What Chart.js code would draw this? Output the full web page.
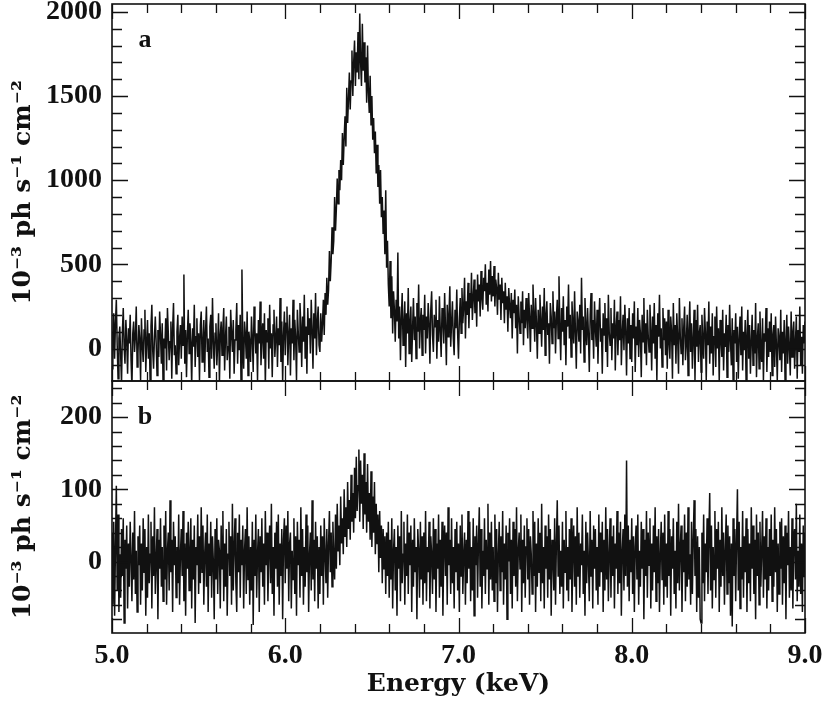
<!DOCTYPE html>
<html>
<head>
<meta charset="utf-8">
<script src="https://cdn.jsdelivr.net/npm/chart.js@4.4.1/dist/chart.umd.min.js"></script>
<style>
  html, body { margin: 0; padding: 0; background: #fff; }
  #wrap { position: relative; width: 830px; height: 702px; }
  #wrap canvas { position: absolute; left: 0; }
  #panelA { top: 0; }
  #panelB { top: 360px; }
</style>
</head>
<body>
<div id="wrap">
  <canvas id="panelA" width="830" height="384"></canvas>
  <canvas id="panelB" width="830" height="342"></canvas>
</div>
<script>
// channel grid (keV)
const E_START = 5.0;
const E_STEP = 0.005;

// panel a: flux, 10^-3 ph s^-1 cm^-2, one value per channel (40 per 0.2 keV row)
const FLUX_A = [
  -120, 80, 210, -60, 150, 290, 20, -180, 60, 130, -40, -210, 100, 240, 10, -90, 170, 50, -150, 120,
  30, 200, -70, -230, 90, 160, -20, 70, 250, -110, -30, 140, 60, -190, 180, 20, -80, 110, 230, -140,
  40, 170, -60, 90, -200, 130, 260, -10, -120, 70, 190, 30, -160, 110, -50, 220, 80, -90, 150, -240,
  60, 0, 180, -130, 240, 90, -70, 40, 160, -180, 120, 270, -40, 20, -150, 100, 200, -100, 60, 140,
  -60, 190, 20, 440, -90, 110, -170, 80, 230, -30, 150, 40, -220, 120, 10, 260, -110, 70, 180, -50,
  90, -190, 140, 220, -80, 30, 170, -140, 100, 250, -20, 60, -170, 130, 200, -60, 300, 40, -120, 90,
  150, -100, 20, 210, -210, 80, 160, -40, 120, 240, -130, 60, 190, -70, 10, 130, -180, 230, 90, -20,
  170, -150, 50, 110, 270, -90, 140, -10, 200, -230, 470, 30, -120, 160, 80, -60, 220, -160, 100, 40,
  -80, 190, 60, -140, 250, 120, -30, 90, -190, 170, 30, 280, -100, 70, 150, -60, 210, -220, 110, 40,
  180, -120, 260, 0, 90, -170, 140, 230, -50, 60, 190, -110, 120, 20, 300, -80, 160, -200, 80, 220,
  -40, 150, 250, -100, 80, 200, -160, 120, 30, 290, -70, 170, 60, -190, 230, 100, -20, 270, 140, -110,
  190, 40, 320, -60, 130, -150, 240, 80, 180, -30, 290, 110, -120, 210, 60, 330, -40, 160, 250, 20,
  -20, 210, 40, 150, 290, 80, 330, 200, 420, 260, 350, 580, 400, 520, 720, 560, 640, 900, 700, 830,
  1010, 860, 1060, 940, 1120, 1000, 1280, 1090, 1250, 1380, 1200, 1550, 1340, 1480, 1640, 1420, 1590, 1770, 1500, 1700,
  1830, 1560, 1760, 1640, 1880, 1600, 1990, 1700, 1560, 1930, 1650, 1820, 1580, 1730, 1460, 1800, 1520, 1400, 1620, 1330,
  1500, 1240, 1370, 1160, 1290, 1040, 1210, 960, 1090, 860, 1060, 780, 900, 680, 820, 560, 940, 480, 640, 380,
  250, 520, 180, 430, 90, 340, 230, 40, 290, 160, 570, 60, 250, -70, 180, 330, 20, 140, 280, -110,
  210, 90, 360, -30, 150, 250, -80, 120, 300, 50, 190, -60, 270, 100, 380, 0, 160, 240, -40, 200,
  110, 320, -30, 190, 60, 270, 150, -90, 230, 340, 80, -20, 200, 130, 290, -60, 170, 40, 310, 100,
  -50, 240, 180, 30, 330, 120, -100, 260, 70, 200, 370, 10, 150, 280, 60, -40, 230, 120, 350, 90,
  -60, 180, 300, 90, 360, 150, 250, 420, 60, 280, 200, 390, 120, 330, 240, 450, 170, 300, 410, 210,
  350, 130, 440, 280, 380, 190, 460, 300, 230, 420, 340, 500, 260, 390, 220, 470, 320, 520, 280, 430,
  310, 490, 250, 410, 360, 200, 450, 290, 380, 170, 420, 270, 340, 150, 390, 230, 310, 100, 360, 250,
  180, 330, 60, 290, 210, 350, 120, 260, -30, 310, 190, 90, 280, 150, 340, 20, 230, 120, 300, 170,
  60, 330, 190, -20, 260, 120, 380, 210, 40, 300, 150, -60, 230, 90, 320, 170, 10, 250, 110, 360,
  -40, 200, 280, 80, 150, -90, 270, 190, 30, 340, 120, 220, -30, 180, 290, 60, 430, 140, -70, 240,
  100, 310, 20, 170, -100, 250, 130, 380, 60, 200, -50, 280, 150, 30, 340, 90, -120, 220, 160, 40,
  260, -30, 420, 110, 190, -80, 300, 140, 20, 240, 80, -140, 200, 330, 50, 170, -60, 280, 120, 10,
  230, -90, 160, 300, 40, 120, -150, 210, 80, 270, -20, 180, -110, 320, 100, 20, 240, -70, 150, 60,
  290, -130, 130, 220, -40, 170, 50, 310, -100, 90, 200, -10, 260, 110, -160, 180, 30, 240, -60, 140,
  -80, 210, 60, 280, -140, 130, 20, 240, -50, 170, 90, -170, 200, 40, 300, -30, 150, -100, 230, 80,
  -20, 260, 110, -130, 190, 30, 270, -60, 140, -190, 210, 70, 320, 0, 120, -110, 240, 50, 180, -40,
  160, -120, 230, 40, -60, 190, 100, -180, 270, 20, 140, -90, 210, 60, -150, 300, 80, -30, 180, -100,
  120, 250, -70, 30, 200, -160, 110, 280, -20, 150, -120, 60, 230, -190, 170, 10, 260, -80, 90, 140,
  -140, 200, 50, -60, 240, 100, -190, 160, 20, 280, -90, 130, -30, 210, -160, 70, 190, -110, 250, 0,
  120, -200, 170, 60, -50, 230, -130, 90, 10, 200, -170, 140, -20, 260, 40, -100, 180, -190, 110, 30,
  210, -80, 130, -180, 60, 190, -40, 250, -130, 100, -10, 170, -200, 80, 230, -60, 140, -150, 40, 200,
  -100, 110, -30, 270, -170, 60, 150, -120, 220, 0, -80, 180, -190, 90, 40, 240, -140, 120, -50, 160,
  -20, 210, -160, 80, 140, -110, 190, 20, -190, 120, 60, -70, 230, -140, 100, -30, 170, -200, 50, 200,
  -90, 130, 10, -160, 220, -50, 90, 160, -120, 40, 190, -180, 110, -20, 250, -100, 70, -150, 140, 30,
  160
];

// panel b
const FLUX_B = [
  40, -60, 55, -75, 20, 105, -40, 65, -70, 10, -50, 45, -20, 60, -85, 30, -10, 50, -65, 25,
  -35, 55, 5, -55, 40, -25, 70, -45, 15, -70, 35, -5, 50, -60, 25, -40, 60, -15, 45, -75,
  20, -50, 65, -30, 10, 55, -65, 35, -20, 75, -45, 0, 45, -80, 30, -10, 60, -35, 20, -55,
  50, -25, 70, -60, 15, 40, -40, 85, -15, 30, -70, 55, -5, 35, -50, 20, -30, 65, -60, 10,
  45, -20, 70, -55, 25, -75, 40, -10, 55, -40, 15, 60, -65, 30, -25, 50, -85, 20, -5, 65,
  -45, 35, -30, 75, -15, 50, -60, 10, 40, -35, 65, -70, 25, -20, 55, -50, 35, 0, -80, 45,
  -25, 60, -45, 30, 15, -65, 50, -10, 70, -55, 25, -35, 45, -75, 10, 55, -20, 35, -60, 80,
  -40, 20, 60, -30, -70, 40, -15, 65, -50, 30, -5, 50, -65, 15, 45, -45, 75, -25, 35, -60,
  20, -40, 55, -88, 30, -20, 65, -50, 10, 45, -70, 35, -15, 60, -35, 25, -60, 70, -5, 40,
  -55, 15, 50, -30, 80, -45, 20, -75, 40, -10, 55, -35, 65, -60, 25, -20, 45, -80, 30, 60,
  -30, 50, -10, 70, -55, 25, 40, -65, 15, -25, 60, -45, 35, -75, 55, -5, 30, -50, 75, -20,
  45, -60, 20, -35, 65, -15, 50, -70, 10, 40, -40, 85, -25, 30, -55, 55, -10, 35, -65, 20,
  -45, 50, -20, 35, -60, 60, 10, -30, 45, -50, 25, 70, -15, 40, -35, 55, 5, -25, 65, -10,
  80, 15, 50, -5, 90, 25, 60, 10, 100, 35, 75, 20, 110, 45, 85, 30, 120, 55, 95, 40,
  130, 60, 145, 70, 105, 155, 55, 140, 80, 120, 45, 150, 65, 110, 40, 135, 55, 95, 30, 125,
  20, 90, 40, 110, 10, 80, 25, 65, -15, 70, 5, 50, -30, 45, -10, 35, -45, 40, -20, 55,
  -50, 30, -25, 60, -65, 15, 45, -40, 20, -75, 50, -10, 35, -55, 70, -30, 10, 55, -60, 25,
  -20, 65, -45, 40, -5, 50, -70, 30, -35, 60, -15, 20, -80, 45, 15, -50, 55, -25, 35, -60,
  40, -30, 70, -55, 20, -15, 55, -65, 35, 10, -45, 60, -25, 45, -70, 25, -10, 65, -50, 30,
  -35, 55, -75, 15, 50, -20, 40, -60, 75, -5, 30, -45, 60, -30, 20, -65, 45, -15, 55, -40,
  25, -70, 50, -20, 65, -45, 10, 40, -60, 30, -30, 70, -10, 55, -55, 20, -40, 60, -75, 35,
  -5, 50, -50, 25, 75, -35, 45, -65, 15, -20, 60, -45, 30, -10, 80, -60, 40, -25, 55, -40,
  20, -55, 65, -30, 45, -70, 10, 55, -40, 35, -15, 70, -60, 25, -25, 50, -80, 40, 0, 60,
  -45, 30, -65, 55, -20, 45, -35, 75, -55, 15, 40, -10, 65, -70, 30, -30, 50, -50, 20, 60,
  -25, 45, -60, 35, 10, -45, 70, -20, 55, -70, 25, -35, 60, -15, 40, -55, 80, -30, 20, -65,
  50, -10, 35, -50, 65, -25, 45, -75, 30, 5, -40, 60, -60, 25, 85, -20, 50, -45, 15, -35,
  55, -65, 30, -15, 70, -40, 20, -55, 45, -25, 60, -70, 10, 50, -35, 35, -60, 75, -20, 40,
  -50, 25, -5, 65, -45, 15, -75, 55, -30, 40, 0, -55, 70, -20, 30, -65, 50, -10, 45, -40,
  20, -60, 65, -35, 40, -15, 55, -70, 30, -40, 75, -25, 45, -55, 10, 60, -50, 35, -20, 50,
  -65, 25, -10, 70, -45, 40, -30, 55, -75, 15, 45, -40, 65, -20, 140, -35, 50, -55, 30, -15,
  60, -45, 35, -70, 20, 50, -25, 65, -60, 15, -35, 55, -10, 45, -80, 30, -20, 70, -50, 40,
  -5, 60, -65, 25, -40, 50, -15, 75, -55, 35, -30, 45, -70, 10, 55, -25, 40, -60, 65, -35,
  25, -50, 70, -20, 45, -75, 35, -10, 60, -45, 15, -65, 55, -30, 80, -40, 20, 50, -70, 30,
  -15, 65, -55, 40, -35, 75, -25, 10, -60, 55, -45, 30, 85, -20, 45, -70, 35, -50, 20, -80,
  -85, 40, -30, 65, -55, 25, -15, 60, -45, 35, 95, -40, 50, -65, 20, -25, 70, -50, 45, -10,
  55, -70, 30, -35, 75, -20, 40, -60, 15, 65, -45, 50, -30, 35, -75, 25, -90, 60, -20, 45,
  -55, 30, 100, -40, 55, -65, 20, -25, 70, -50, 35, -15, 60, -70, 45, -30, 25, -55, 75, -10,
  50, -45, 30, -80, 65, -20, 40, -60, 55, -35, 15, 70, -50, 35, -25, 60, -65, 20, -40, 45,
  -20, 65, -55, 30, -35, 75, -15, 45, -70, 25, -45, 55, -10, 60, -60, 35, -30, 50, -80, 40,
  -5, 70, -50, 20, -40, 60, -65, 30, 45, -25, 80, -55, 15, -35, 65, -45, 25, -70, 50, -20,
  40
];

const X_TICKS = [5, 6, 7, 8, 9];
const Y_TICKS_A = [0, 500, 1000, 1500, 2000];
const Y_TICKS_B = [0, 100, 200];

const INK = '#111';
const tickFont = { family: 'Liberation Serif', weight: 'bold', size: 28 };
const titleFont = { family: 'DejaVu Serif', weight: 'bold', size: 25 };
const yTitle = '10\u207B\u00B3 ph s\u207B\u00B9 cm\u207B\u00B2';

function toPoints(arr) {
  return arr.map((v, i) => ({ x: E_START + i * E_STEP, y: v }));
}

function isMultiple(v, step) {
  const r = v / step;
  return Math.abs(r - Math.round(r)) < 1e-6;
}

// box + inward ticks on all four sides, and the panel letter
const framePlugin = {
  id: 'frame',
  afterDatasetsDraw(chart, args, opts) {
    const { ctx, chartArea: a, scales: { x, y } } = chart;
    ctx.save();
    ctx.strokeStyle = INK;
    ctx.lineWidth = 1.3;
    ctx.beginPath();
    const nx = Math.round((x.max - x.min) / opts.xMinor);
    for (let k = 0; k <= nx; k++) {
      const v = x.min + k * opts.xMinor;
      const px = Math.round(x.getPixelForValue(v)) + 0.5;
      const len = isMultiple(v, opts.xMajor) ? 15 : 9;
      ctx.moveTo(px, a.top); ctx.lineTo(px, a.top + len);
      ctx.moveTo(px, a.bottom); ctx.lineTo(px, a.bottom - len);
    }
    const y0 = Math.ceil(y.min / opts.yMinor);
    const y1 = Math.floor(y.max / opts.yMinor);
    for (let k = y0; k <= y1; k++) {
      const v = k * opts.yMinor;
      const py = Math.round(y.getPixelForValue(v)) + 0.5;
      const len = isMultiple(v, opts.yMajor) ? 16 : 10;
      ctx.moveTo(a.left, py); ctx.lineTo(a.left + len, py);
      ctx.moveTo(a.right, py); ctx.lineTo(a.right - len, py);
    }
    ctx.stroke();
    ctx.lineWidth = 1.6;
    ctx.strokeRect(a.left, a.top, a.right - a.left, a.bottom - a.top);
    ctx.fillStyle = INK;
    ctx.font = 'bold 26px "Liberation Serif"';
    ctx.textAlign = 'center';
    ctx.textBaseline = 'alphabetic';
    ctx.fillText(opts.letter, a.left + 33, a.top + 43);
    ctx.restore();
  }
};

function fitY(s) {
  s.width = 112;
  s.paddingTop = 0;
  s.paddingBottom = 0;
}

function yScale(min, max, ticks) {
  return {
    type: 'linear',
    min: min,
    max: max,
    afterBuildTicks: s => { s.ticks = ticks.map(v => ({ value: v })); },
    afterFit: fitY,
    grid: { display: false, drawTicks: false },
    border: { display: false },
    ticks: { font: tickFont, color: INK, padding: 10, callback: v => String(v) },
    title: { display: true, text: yTitle, font: titleFont, color: INK, padding: { top: 8, bottom: 0 } }
  };
}

function lineSet(arr) {
  return {
    data: toPoints(arr),
    borderColor: INK,
    borderWidth: 1.5,
    pointRadius: 0,
    tension: 0,
    fill: false
  };
}

new Chart(document.getElementById('panelA'), {
  type: 'line',
  data: { datasets: [lineSet(FLUX_A)] },
  options: {
    responsive: false,
    animation: false,
    layout: { padding: { top: 4, right: 25, bottom: 3, left: 0 } },
    plugins: {
      legend: { display: false },
      tooltip: { enabled: false },
      frame: { xMinor: 0.2, xMajor: 1, yMinor: 100, yMajor: 500, letter: 'a' }
    },
    scales: {
      x: { type: 'linear', display: false, min: 5, max: 9 },
      y: yScale(-193, 2047, Y_TICKS_A)
    }
  },
  plugins: [framePlugin]
});

new Chart(document.getElementById('panelB'), {
  type: 'line',
  data: { datasets: [lineSet(FLUX_B)] },
  options: {
    responsive: false,
    animation: false,
    layout: { padding: { top: 21, right: 25, bottom: 0, left: 0 } },
    plugins: {
      legend: { display: false },
      tooltip: { enabled: false },
      frame: { xMinor: 0.2, xMajor: 1, yMinor: 20, yMajor: 100, letter: 'b' }
    },
    scales: {
      x: {
        type: 'linear',
        min: 5,
        max: 9,
        afterBuildTicks: s => { s.ticks = X_TICKS.map(v => ({ value: v })); },
        afterFit: s => { s.height = 69; s.paddingLeft = 0; s.paddingRight = 0; },
        grid: { display: false, drawTicks: false },
        border: { display: false },
        ticks: { font: tickFont, color: INK, padding: 6, maxRotation: 0, callback: v => v.toFixed(1) },
        title: { display: true, text: 'Energy (keV)', font: { family: 'DejaVu Serif', weight: 'bold', size: 25 }, color: INK, padding: { top: 0, bottom: 3 } }
      },
      y: yScale(-99, 250, Y_TICKS_B)
    }
  },
  plugins: [framePlugin]
});
</script>
</body>
</html>
